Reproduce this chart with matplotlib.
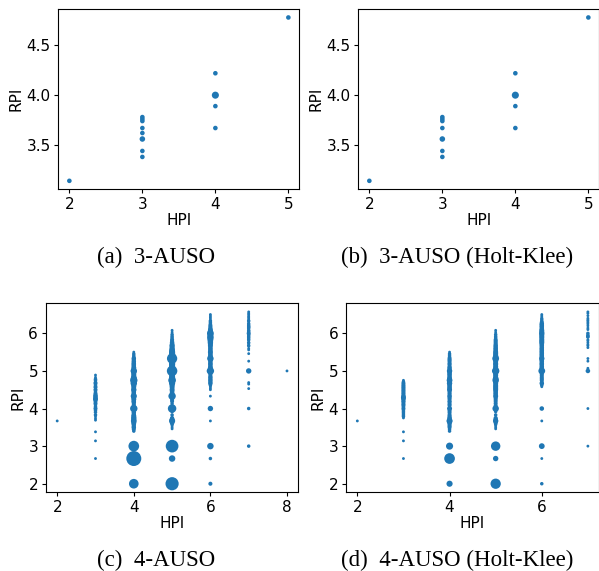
import matplotlib
matplotlib.use("Agg")
import matplotlib.pyplot as plt

# ---- (a) 3-AUSO / (b) 3-AUSO (Holt-Klee) ----
a_hpi = [2, 3, 3, 3, 3, 3, 3, 3, 3, 4, 4, 4, 4, 5]
a_rpi = [3.14, 3.78, 3.76, 3.74, 3.67, 3.62, 3.56, 3.44, 3.38, 4.22, 4.0, 3.89, 3.67, 4.78]
a_cnt = [1, 1, 1, 1, 1, 1, 2, 1, 1, 1, 4, 1, 1, 1]

b_hpi = [2, 3, 3, 3, 3, 3, 3, 3, 4, 4, 4, 4, 5]
b_rpi = [3.14, 3.78, 3.76, 3.74, 3.67, 3.56, 3.44, 3.38, 4.22, 4.0, 3.89, 3.67, 4.78]
b_cnt = [1, 1, 1, 1, 1, 2, 1, 1, 1, 4, 1, 1, 1]

# ---- (c) 4-AUSO, per HPI column: (RPI, count) ----
c2 = [(3.67, 1)]
c3 = [(4.89, 1), (4.83, 1), (4.78, 2), (4.75, 2), (4.7, 2), (4.67, 3), (4.62, 2), (4.57, 3),
      (4.5, 3), (4.45, 2), (4.4, 3), (4.36, 3), (4.33, 4), (4.29, 4), (4.25, 5), (4.2, 3),
      (4.14, 3), (4.1, 2), (4.05, 2), (4.0, 3), (3.95, 2), (3.9, 2), (3.83, 2), (3.78, 1),
      (3.73, 1), (3.69, 1), (3.38, 1), (3.14, 1), (2.67, 1)]
c4 = [(5.5, 1), (5.45, 2), (5.4, 2), (5.36, 2), (5.33, 4), (5.29, 3), (5.25, 4), (5.2, 4),
      (5.17, 4), (5.13, 4), (5.08, 5), (5.04, 4), (5.0, 9), (4.96, 5), (4.92, 5), (4.88, 5),
      (4.83, 6), (4.8, 8), (4.75, 12), (4.71, 6), (4.67, 9), (4.62, 5), (4.58, 5), (4.54, 4),
      (4.5, 6), (4.46, 4), (4.42, 4), (4.38, 4), (4.33, 8), (4.29, 4), (4.25, 5), (4.2, 4),
      (4.17, 4), (4.12, 3), (4.08, 3), (4.0, 12), (3.94, 3), (3.89, 4), (3.83, 4), (3.8, 5),
      (3.75, 6), (3.71, 5), (3.67, 7), (3.62, 5), (3.58, 4), (3.54, 3), (3.5, 4), (3.45, 3),
      (3.4, 2), (3.0, 26), (2.67, 52), (2.0, 21)]
c5 = [(6.08, 1), (6.03, 1), (5.97, 2), (5.92, 2), (5.88, 2), (5.83, 3), (5.79, 3), (5.75, 4),
      (5.71, 4), (5.67, 6), (5.62, 5), (5.58, 6), (5.54, 7), (5.5, 8), (5.46, 8), (5.42, 9),
      (5.38, 12), (5.33, 24), (5.29, 10), (5.25, 9), (5.2, 8), (5.17, 8), (5.12, 8), (5.08, 9),
      (5.04, 10), (5.0, 25), (4.96, 8), (4.92, 7), (4.88, 7), (4.83, 8), (4.79, 8), (4.75, 13),
      (4.71, 6), (4.67, 8), (4.62, 5), (4.58, 5), (4.54, 4), (4.5, 5), (4.46, 4), (4.42, 4),
      (4.38, 4), (4.33, 12), (4.29, 3), (4.25, 3), (4.2, 3), (4.14, 2), (4.08, 2), (4.0, 16),
      (3.92, 2), (3.83, 2), (3.75, 3), (3.71, 5), (3.67, 8), (3.62, 4), (3.58, 2), (3.54, 1),
      (3.5, 1), (3.46, 1), (3.0, 37), (2.67, 9), (2.0, 40)]
c6 = [(6.5, 1), (6.46, 1), (6.42, 1), (6.38, 1), (6.33, 2), (6.29, 2), (6.25, 2), (6.21, 3),
      (6.17, 3), (6.12, 4), (6.08, 5), (6.04, 6), (6.0, 10), (5.96, 7), (5.92, 8), (5.88, 9),
      (5.83, 7), (5.79, 6), (5.75, 6), (5.71, 5), (5.67, 5), (5.62, 4), (5.58, 4), (5.54, 4),
      (5.5, 5), (5.46, 4), (5.42, 4), (5.38, 5), (5.33, 9), (5.29, 4), (5.25, 4), (5.2, 4),
      (5.17, 4), (5.12, 4), (5.08, 5), (5.04, 5), (5.0, 12), (4.96, 4), (4.92, 3), (4.88, 3),
      (4.83, 4), (4.79, 3), (4.75, 4), (4.71, 3), (4.67, 4), (4.62, 2), (4.58, 1), (4.54, 1),
      (4.5, 1), (4.33, 1), (4.0, 6), (3.67, 1), (3.0, 9), (2.67, 2), (2.0, 3)]
c7 = [(6.57, 1), (6.53, 1), (6.5, 1), (6.46, 1), (6.43, 1), (6.4, 1), (6.36, 1), (6.33, 2),
      (6.29, 1), (6.25, 2), (6.22, 1), (6.2, 2), (6.17, 2), (6.14, 2), (6.11, 1), (6.08, 2),
      (6.05, 2), (6.0, 3), (5.96, 2), (5.92, 2), (5.88, 2), (5.85, 1), (5.83, 2), (5.8, 1),
      (5.75, 2), (5.71, 1), (5.67, 2), (5.6, 1), (5.56, 1), (5.46, 1), (5.26, 1), (5.0, 6),
      (4.69, 1), (4.65, 1), (4.53, 1), (4.0, 2), (3.0, 2)]
c8 = [(5.0, 1)]

# ---- (d) 4-AUSO (Holt-Klee) ----
d2 = [(3.67, 1)]
d3 = [(4.75, 1), (4.71, 2), (4.67, 3), (4.62, 3), (4.58, 3), (4.54, 3), (4.5, 3), (4.46, 3),
      (4.42, 3), (4.38, 3), (4.33, 4), (4.29, 5), (4.25, 4), (4.2, 3), (4.17, 3), (4.12, 3),
      (4.08, 3), (4.04, 2), (4.0, 3), (3.96, 2), (3.92, 2), (3.88, 2), (3.83, 2), (3.79, 2),
      (3.75, 1), (3.38, 1), (3.14, 1), (2.67, 1)]
d4 = [(5.5, 1), (5.45, 2), (5.4, 2), (5.36, 2), (5.33, 3), (5.29, 3), (5.25, 3), (5.2, 3),
      (5.17, 3), (5.12, 3), (5.08, 4), (5.04, 3), (5.0, 6), (4.96, 4), (4.92, 4), (4.88, 4),
      (4.83, 4), (4.79, 5), (4.75, 7), (4.71, 5), (4.67, 6), (4.62, 4), (4.58, 4), (4.54, 4),
      (4.5, 5), (4.46, 3), (4.42, 3), (4.38, 3), (4.33, 4), (4.29, 3), (4.25, 3), (4.2, 3),
      (4.17, 3), (4.12, 3), (4.08, 3), (4.0, 5), (3.94, 3), (3.89, 3), (3.83, 3), (3.79, 3),
      (3.75, 4), (3.71, 4), (3.67, 8), (3.62, 4), (3.58, 3), (3.54, 3), (3.5, 3), (3.45, 2),
      (3.4, 2), (3.0, 11), (2.67, 26), (2.0, 8)]
d5 = [(6.08, 1), (6.03, 1), (5.97, 2), (5.92, 2), (5.88, 2), (5.83, 3), (5.79, 3), (5.75, 3),
      (5.71, 3), (5.67, 4), (5.62, 4), (5.58, 4), (5.54, 4), (5.5, 5), (5.46, 5), (5.42, 5),
      (5.38, 6), (5.33, 10), (5.29, 5), (5.25, 5), (5.2, 5), (5.17, 5), (5.12, 5), (5.08, 5),
      (5.04, 6), (5.0, 12), (4.96, 5), (4.92, 5), (4.88, 5), (4.83, 5), (4.79, 7), (4.75, 9),
      (4.71, 5), (4.67, 5), (4.62, 5), (4.58, 5), (4.54, 5), (4.5, 5), (4.46, 4), (4.42, 4),
      (4.38, 4), (4.33, 5), (4.29, 3), (4.25, 3), (4.2, 3), (4.14, 3), (4.08, 3), (4.0, 9),
      (3.92, 2), (3.83, 2), (3.75, 3), (3.71, 4), (3.67, 6), (3.62, 3), (3.58, 2), (3.54, 1),
      (3.5, 1), (3.46, 1), (3.0, 20), (2.67, 6), (2.0, 24)]
d6 = [(6.5, 1), (6.46, 1), (6.42, 1), (6.38, 2), (6.33, 2), (6.29, 3), (6.25, 4), (6.21, 4),
      (6.17, 4), (6.12, 4), (6.08, 5), (6.04, 5), (6.0, 6), (5.96, 5), (5.92, 5), (5.88, 5),
      (5.83, 5), (5.79, 5), (5.75, 5), (5.71, 4), (5.67, 4), (5.62, 4), (5.58, 4), (5.54, 4),
      (5.5, 4), (5.46, 4), (5.42, 4), (5.38, 4), (5.33, 6), (5.29, 4), (5.25, 4), (5.2, 4),
      (5.17, 4), (5.12, 4), (5.08, 4), (5.04, 4), (5.0, 10), (4.96, 3), (4.92, 3), (4.88, 3),
      (4.83, 3), (4.79, 3), (4.75, 3), (4.71, 2), (4.67, 4), (4.62, 2), (4.58, 1), (4.0, 4),
      (3.67, 1), (3.0, 7), (2.67, 1), (2.0, 2)]
d7 = [(6.57, 1), (6.53, 1), (6.47, 1), (6.4, 1), (6.36, 1), (6.33, 1), (6.29, 1), (6.25, 1),
      (6.2, 1), (6.14, 1), (6.1, 1), (6.0, 2), (5.95, 2), (5.92, 2), (5.9, 2), (5.83, 1),
      (5.8, 1), (5.75, 1), (5.7, 1), (5.67, 1), (5.62, 1), (5.33, 1), (5.26, 1), (5.07, 1),
      (5.0, 4), (4.0, 1), (3.0, 1)]

c_cols = {2: c2, 3: c3, 4: c4, 5: c5, 6: c6, 7: c7, 8: c8}
d_cols = {2: d2, 3: d3, 4: d4, 5: d5, 6: d6, 7: d7}


def flatten(cols):
    xs, ys, ns = [], [], []
    for h, pts in cols.items():
        for r, n in pts:
            xs.append(h)
            ys.append(r)
            ns.append(n)
    return xs, ys, ns


plt.rcParams['font.size'] = 11
plt.rcParams['xtick.major.size'] = 3
plt.rcParams['ytick.major.size'] = 3
plt.rcParams['xtick.major.pad'] = 2.5
plt.rcParams['ytick.major.pad'] = 2.5

fig = plt.figure(figsize=(5.99, 5.71), dpi=100)

ax_a = fig.add_axes([0.0975, 0.669, 0.4022, 0.3147])
ax_b = fig.add_axes([0.5983, 0.669, 0.4022, 0.3147])
ax_c = fig.add_axes([0.0763, 0.1378, 0.4220, 0.331])
ax_d = fig.add_axes([0.5773, 0.1378, 0.4234, 0.331])

ax_a.scatter(a_hpi, a_rpi, s=[6 + 5 * n for n in a_cnt], color='#1f77b4', linewidths=0)
ax_b.scatter(b_hpi, b_rpi, s=[6 + 5 * n for n in b_cnt], color='#1f77b4', linewidths=0)

cx, cy, cn = flatten(c_cols)
dx, dy, dn = flatten(d_cols)
ax_c.scatter(cx, cy, s=[2 + 2.2 * n for n in cn], color='#1f77b4', linewidths=0)
ax_d.scatter(dx, dy, s=[2 + 2.2 * n for n in dn], color='#1f77b4', linewidths=0)

for ax in (ax_a, ax_b):
    ax.set_xticks([2, 3, 4, 5])
    ax.set_yticks([3.5, 4.0, 4.5])
ax_c.set_xticks([2, 4, 6, 8])
ax_d.set_xticks([2, 4, 6])
for ax in (ax_c, ax_d):
    ax.set_yticks([2, 3, 4, 5, 6])

for ax in (ax_a, ax_b, ax_c, ax_d):
    ax.set_xlabel('HPI', labelpad=1)
    ax.set_ylabel('RPI', labelpad=2)

serif = dict(family='Liberation Serif', fontsize=16.5, ha='center', va='baseline')
fig.text(156 / 599, 1 - 263 / 571, '(a)  3-AUSO', **serif)
fig.text(457 / 599, 1 - 263 / 571, '(b)  3-AUSO (Holt-Klee)', **serif)
fig.text(156 / 599, 1 - 566 / 571, '(c)  4-AUSO', **serif)
fig.text(457 / 599, 1 - 566 / 571, '(d)  4-AUSO (Holt-Klee)', **serif)

fig.savefig('out.png', dpi=100)
